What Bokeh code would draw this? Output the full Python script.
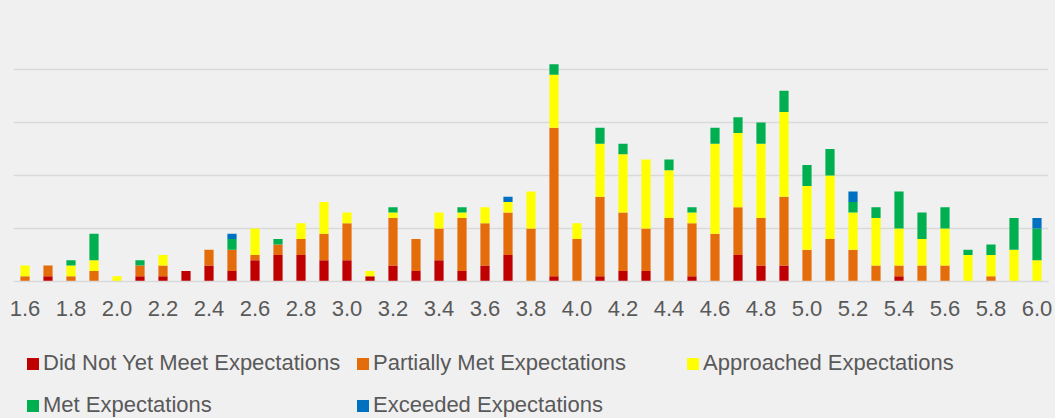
from bokeh.plotting import figure
from bokeh.layouts import column
from bokeh.models import ColumnDataSource, FixedTicker, Legend, LegendItem, NumeralTickFormatter, Range1d
from bokeh.embed import file_html
from bokeh.resources import INLINE

categories = ["1.6", "1.7", "1.8", "1.9", "2.0", "2.1", "2.2", "2.3", "2.4", "2.5",
              "2.6", "2.7", "2.8", "2.9", "3.0", "3.1", "3.2", "3.3", "3.4", "3.5",
              "3.6", "3.7", "3.8", "3.9", "4.0", "4.1", "4.2", "4.3", "4.4", "4.5",
              "4.6", "4.7", "4.8", "4.9", "5.0", "5.1", "5.2", "5.3", "5.4", "5.5",
              "5.6", "5.7", "5.8", "5.9", "6.0"]

did_not_yet_meet = [0, 1, 0, 0, 0, 1, 1, 2, 3, 2, 4, 5, 5, 4, 4,
                    1, 3, 2, 4, 2, 3, 5, 0, 1, 0, 1, 2, 2, 0, 1,
                    0, 5, 3, 3, 0, 0, 0, 0, 1, 0, 0, 0, 0, 0, 0]
partially_met = [1, 2, 1, 2, 0, 2, 2, 0, 3, 4, 1, 2, 3, 5, 7,
                 0, 9, 6, 6, 10, 8, 8, 10, 28, 8, 15, 11, 8, 12, 10,
                 9, 9, 9, 13, 6, 8, 6, 3, 2, 3, 3, 0, 1, 0, 0]
approached = [2, 0, 2, 2, 1, 0, 2, 0, 0, 0, 5, 0, 3, 6, 2,
              1, 1, 0, 3, 1, 3, 2, 7, 10, 3, 10, 11, 13, 9, 2,
              17, 14, 14, 16, 12, 12, 7, 9, 7, 5, 7, 5, 4, 6, 4]
met = [0, 0, 1, 5, 0, 1, 0, 0, 0, 2, 0, 1, 0, 0, 0,
       0, 1, 0, 0, 1, 0, 0, 0, 2, 0, 3, 2, 0, 2, 1,
       3, 3, 4, 4, 4, 5, 2, 2, 7, 5, 4, 1, 2, 6, 6]
exceeded = [0, 0, 0, 0, 0, 0, 0, 0, 0, 1, 0, 0, 0, 0, 0,
            0, 0, 0, 0, 0, 0, 1, 0, 0, 0, 0, 0, 0, 0, 0,
            0, 0, 0, 0, 0, 0, 2, 0, 0, 0, 0, 0, 0, 0, 2]

series_names = ["Did Not Yet Meet Expectations", "Partially Met Expectations",
                "Approached Expectations", "Met Expectations", "Exceeded Expectations"]
series_keys = ["dnm", "pm", "ap", "me", "ex"]
colors = ["#C00000", "#E46C0A", "#FFFF00", "#00B050", "#0070C0"]
tick_labels = ["1.6", "1.8", "2.0", "2.2", "2.4", "2.6", "2.8", "3.0", "3.2", "3.4",
               "3.6", "3.8", "4.0", "4.2", "4.4", "4.6", "4.8", "5.0", "5.2", "5.4",
               "5.6", "5.8", "6.0"]
y_grid_values = [0, 10, 20, 30, 40, 50]

xs = [float(c) for c in categories]
source = ColumnDataSource(dict(x=xs, dnm=did_not_yet_meet, pm=partially_met,
                               ap=approached, me=met, ex=exceeded))

BG = "#F0F0F1"
FONT = "Liberation Sans"
TXT = "#595959"

p = figure(width=1055, height=330, output_backend="svg", toolbar_location=None,
           x_range=Range1d(xs[0] - 0.05, xs[-1] + 0.05), y_range=Range1d(0, 50),
           min_border_left=13, min_border_right=7, min_border_top=16, min_border_bottom=49,
           background_fill_color=BG, border_fill_color=BG, outline_line_color=None)

renderers = p.vbar_stack(series_keys, x="x", width=0.04, source=source,
                         fill_color=colors, line_color=None)

p.xgrid.visible = False
p.ygrid.ticker = FixedTicker(ticks=y_grid_values)
p.ygrid.grid_line_color = "#D9D9D9"
p.ygrid.grid_line_width = 1.5
p.yaxis.visible = False

p.xaxis.ticker = FixedTicker(ticks=[float(t) for t in tick_labels])
p.xaxis.formatter = NumeralTickFormatter(format="0.0")
p.xaxis.axis_line_color = "#D9D9D9"
p.xaxis.axis_line_width = 1.5
p.xaxis.major_tick_line_color = None
p.xaxis.minor_tick_line_color = None
p.xaxis.major_tick_out = 0
p.xaxis.major_tick_in = 0
p.xaxis.major_label_standoff = 19
p.xaxis.major_label_text_font = FONT
p.xaxis.major_label_text_font_size = "22px"
p.xaxis.major_label_text_color = TXT

# legend panel (zero-height proxy bars only carry the legend swatches)
p2 = figure(width=1055, height=88, output_backend="svg", toolbar_location=None,
            x_range=Range1d(0, 1), y_range=Range1d(0, 1),
            x_axis_location=None, y_axis_location=None,
            min_border_left=0, min_border_right=0, min_border_top=0, min_border_bottom=0,
            background_fill_color=BG, border_fill_color=BG, outline_line_color=None)
p2.xgrid.visible = False
p2.ygrid.visible = False
legend_renderers = [p2.vbar(x=[0.5], top=[0], bottom=[0], width=0.01, fill_color=c, line_color=None)
                    for c in colors]

legend = Legend(items=[LegendItem(label=n, renderers=[r]) for n, r in zip(series_names, legend_renderers)],
                ncols=3, location=(12, -2), orientation="horizontal",
                glyph_width=15, glyph_height=15, label_standoff=3, label_width=300,
                label_height=30, spacing=12, padding=0, margin=0,
                label_text_font=FONT, label_text_font_size="22px",
                label_text_color=TXT, background_fill_alpha=0, border_line_color=None)
p2.add_layout(legend)

layout = column(p, p2, spacing=0, styles={"background-color": BG})
open("out.html", "w").write(file_html(layout, INLINE))
